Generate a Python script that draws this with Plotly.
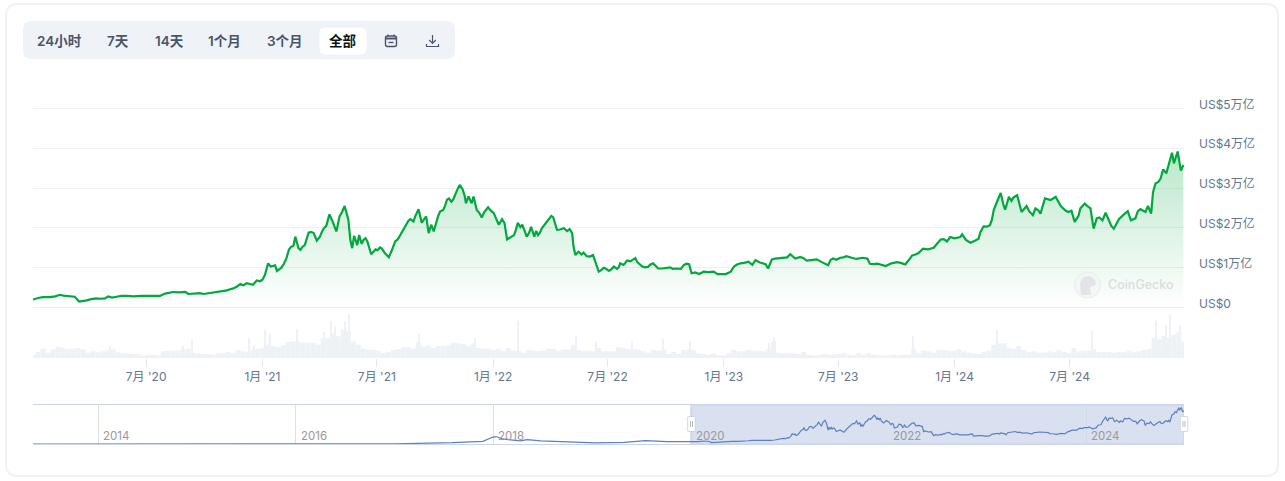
import pandas as pd
import plotly.graph_objs as go

W = 1285
H = 481

START = pd.Timestamp("2020-01-04")
END = pd.Timestamp("2024-12-29")

# market cap in 万亿 USD; days counted from START
cap_days = [
    0, 16, 27, 43, 53, 66, 73, 85, 100, 114, 119, 132, 149, 170, 201, 209, 222, 241, 246, 259,
    270, 291, 307, 317, 328, 333, 338, 348, 354, 359, 367, 372, 376, 383, 386, 393, 401, 405, 412, 415,
    420, 423, 430, 436, 444, 449, 460, 464, 469, 473, 480, 485, 493, 499, 505, 508, 513, 516, 520, 526,
    529, 535, 542, 549, 563, 573, 577, 581, 591, 597, 602, 610, 615, 622, 626, 630, 634, 639, 644, 649,
    655, 662, 668, 675, 680, 685, 689, 694, 697, 702, 710, 720, 729, 737, 742, 746, 750, 761, 767, 774,
    781, 788, 793, 799, 805, 816, 823, 829, 840, 853, 858, 863, 876, 886, 895, 903, 911, 919, 924, 929,
    934, 940, 953, 960, 968, 981, 989, 1003, 1012, 1025, 1030, 1038, 1042, 1054, 1061, 1077, 1083, 1096, 1104, 1109,
    1119, 1132, 1138, 1143, 1159, 1163, 1169, 1180, 1193, 1198, 1206, 1214, 1224, 1240, 1258, 1266, 1277, 1287, 1320, 1324,
    1336, 1349, 1367, 1380, 1391, 1401, 1408, 1425, 1436, 1446, 1451, 1467, 1470, 1483, 1496, 1504, 1514, 1520, 1531, 1538,
    1544, 1551, 1557, 1564, 1572, 1582, 1586, 1594, 1601, 1610, 1618, 1634, 1643, 1648, 1657, 1664, 1673, 1678, 1683, 1692,
    1697, 1702, 1710, 1726, 1732, 1737, 1744, 1752, 1760, 1764, 1769, 1776, 1784, 1788, 1793, 1802, 1805, 1811, 1816, 1820,
]
cap_values = [
    .20, .26, .26, .32, .29, .27, .15, .18, .23, .23, .28, .27, .29, .29, .29, .35, .39, .39, .34, .36,
    .34, .38, .43, .48, .59, .56, .61, .57, .68, .66, .82, 1.11, 1.03, 1.06, .92, 1.00, 1.24, 1.46, 1.55, 1.78,
    1.49, 1.45, 1.57, 1.88, 1.87, 1.68, 1.99, 2.05, 2.34, 2.20, 1.91, 2.29, 2.55, 2.20, 1.49, 1.80, 1.57, 1.82, 1.60, 1.74,
    1.66, 1.34, 1.46, 1.51, 1.26, 1.66, 1.71, 1.82, 2.12, 2.22, 2.16, 2.47, 2.13, 2.29, 1.87, 2.08, 1.91, 2.24, 2.41, 2.45,
    2.71, 2.66, 2.86, 3.08, 2.96, 2.62, 2.79, 2.62, 2.79, 2.45, 2.26, 2.52, 2.37, 2.08, 2.22, 2.12, 1.71, 1.82, 2.13, 2.08,
    1.78, 2.03, 1.78, 1.82, 1.99, 2.24, 2.27, 1.95, 1.99, 1.87, 1.32, 1.40, 1.29, 1.32, .90, 1.00, .92, 1.03, .97, 1.11,
    1.07, 1.18, 1.24, 1.08, 1.01, 1.11, .98, 1.00, .97, .97, 1.07, 1.09, .86, .84, .90, .90, .84, .84, .90, 1.03,
    1.11, 1.15, 1.07, 1.19, 1.09, .98, 1.21, 1.24, 1.26, 1.34, 1.23, 1.27, 1.18, 1.21, 1.06, 1.23, 1.25, 1.29, 1.23, 1.10,
    1.10, 1.04, 1.14, 1.08, 1.31, 1.37, 1.48, 1.50, 1.71, 1.66, 1.77, 1.77, 1.84, 1.63, 1.73, 2.04, 2.07, 2.45, 2.88, 2.46,
    2.78, 2.76, 2.82, 2.40, 2.55, 2.32, 2.49, 2.36, 2.74, 2.70, 2.78, 2.43, 2.43, 2.15, 2.49, 2.61, 2.49, 1.98, 2.24, 2.19,
    2.38, 2.18, 1.98, 2.34, 2.42, 2.19, 2.24, 2.47, 2.40, 2.55, 2.36, 3.12, 3.24, 3.47, 3.37, 3.89, 3.62, 3.92, 3.44, 3.58,
]

# second pass over the same line, the smaller wiggles between the points above
wiggle_days = [
    8, 22, 35, 48, 60, 79, 92, 107, 125, 140, 159, 185, 194, 215, 232, 252, 264, 280, 299, 312,
    322, 343, 363, 397, 408, 418, 426, 433, 440, 454, 457, 477, 489, 502, 511, 523, 532, 545, 552, 556,
    568, 585, 594, 605, 618, 641, 652, 658, 665, 671, 683, 691, 700, 706, 714, 724, 733, 755, 764, 771,
    778, 785, 796, 802, 810, 820, 826, 834, 845, 849, 855, 868, 871, 881, 890, 899, 907, 915, 927, 937,
    945, 950, 956, 964, 973, 977, 985, 995, 1008, 1018, 1034, 1048, 1069, 1090, 1114, 1125, 1150, 1174, 1186, 1202,
    1219, 1232, 1248, 1262, 1271, 1282, 1295, 1303, 1312, 1330, 1342, 1358, 1373, 1385, 1396, 1416, 1431, 1441, 1458, 1476,
    1490, 1499, 1509, 1517, 1525, 1535, 1541, 1548, 1561, 1576, 1590, 1605, 1614, 1626, 1638, 1654, 1668, 1687, 1706, 1718,
    1748, 1772, 1780, 1798, 1808,
]
wiggle_values = [
    .24, .25, .28, .30, .28, .16, .21, .22, .25, .29, .28, .29, .30, .37, .38, .35, .36, .36, .40, .46,
    .52, .59, .70, 1.10, 1.52, 1.60, 1.52, 1.70, 1.90, 1.78, 1.90, 2.02, 2.40, 1.70, 1.68, 1.70, 1.50, 1.44, 1.48, 1.38,
    1.45, 1.95, 2.18, 2.30, 2.20, 2.30, 2.56, 2.74, 2.72, 2.95, 2.80, 2.70, 2.60, 2.38, 2.40, 2.44, 2.22, 1.76, 1.95, 2.02,
    1.92, 1.88, 1.92, 1.88, 2.10, 2.30, 2.12, 1.96, 1.92, 1.97, 1.55, 1.33, 1.38, 1.28, 1.15, .94, .97, .96, 1.02, 1.12,
    1.16, 1.20, 1.14, 1.03, 1.02, 1.08, 1.05, .98, 1.01, .98, 1.10, .88, .89, .85, 1.08, 1.12, 1.13, 1.23, 1.26, 1.28,
    1.24, 1.19, 1.14, 1.20, 1.20, 1.26, 1.25, 1.22, 1.25, 1.09, 1.07, 1.11, 1.12, 1.18, 1.33, 1.46, 1.60, 1.72, 1.74, 1.70,
    1.68, 1.90, 2.03, 2.20, 2.65, 2.60, 2.62, 2.68, 2.55, 2.42, 2.45, 2.72, 2.74, 2.55, 2.40, 2.30, 2.55, 2.26, 2.05, 2.22,
    2.42, 2.90, 3.15, 3.70, 3.80,
]

# relative volume, evenly spaced across the main range
volume_values = [
    10, 18, 28, 16, 26, 34, 30, 26, 28, 30, 26, 16, 20, 18, 20, 24, 26, 18, 14, 14, 12, 12, 8, 10, 10, 8, 20, 22, 22, 22,
    26, 28, 16, 14, 12, 12, 10, 14, 14, 18, 14, 24, 20, 18, 24, 28, 30, 40, 36, 32, 38, 48, 50, 48, 46, 46, 46, 40, 60,
    60, 75, 65, 85, 80, 50, 40, 28, 25, 25, 22, 16, 18, 24, 26, 32, 32, 28, 48, 34, 38, 30, 36, 36, 38, 46, 44, 42, 36, 44,
    30, 28, 28, 24, 28, 22, 30, 22, 22, 16, 24, 22, 20, 22, 28, 28, 22, 26, 26, 40, 24, 22, 22, 20, 30, 20, 20, 20,
    32, 30, 26, 26, 26, 20, 16, 24, 22, 24, 12, 18, 12, 24, 26, 24, 14, 12, 10, 14, 8, 8, 14, 24, 20, 20, 24, 22, 22, 20,
    26, 50, 16, 14, 14, 14, 12, 18, 10, 8, 8, 12, 10, 10, 12, 14, 10, 8, 14, 10, 14, 10, 8, 8, 8, 10, 8, 10,
    10, 28, 14, 22, 20, 16, 24, 24, 22, 20, 26, 20, 16, 14, 12, 18, 22, 40, 44, 44, 30, 28, 36, 24, 18, 20, 16, 16, 20, 18,
    24, 18, 14, 30, 20, 22, 22, 26, 18, 18, 18, 16, 18, 18, 22, 18, 20, 24, 26, 60, 56, 66, 60, 70, 78, 50,
]
spike_days = [
    122, 238, 252, 342, 349, 367, 375, 417, 461, 472, 478, 494, 500, 611, 699, 768,
    859, 891, 948, 996, 1039, 1165, 1173, 1393, 1525, 1676, 1777, 1793, 1799, 1815,
]
spike_values = [
    36, 36, 55, 60, 38, 85, 72, 87, 78, 110, 95, 110, 132, 72, 60, 110,
    68, 48, 52, 56, 52, 46, 62, 65, 85, 80, 112, 100, 128, 100,
]

# earlier history, only shown in the navigator
early_dates = [
    "2013-05-04", "2015-01-01", "2016-01-01", "2017-01-01", "2017-08-01", "2017-11-23", "2017-12-28", "2018-01-10",
    "2018-02-05", "2018-03-03", "2018-04-10", "2018-05-06", "2018-06-25", "2018-08-14", "2018-11-28", "2019-01-15",
    "2019-04-30", "2019-07-17", "2019-10-05", "2019-12-30",
]
early_values = [
    .002, .005, .008, .018, .14, .29, .72, .80, .54, .43, .33, .47, .33, .29, .22, .13, .18, .36, .25, .22,
]

y_ticks = [0, 1, 2, 3, 4, 5]
y_labels = ["US$0", "US$1万亿", "US$2万亿", "US$3万亿", "US$4万亿", "US$5万亿"]
x_ticks = ["2020-07-01", "2021-01-01", "2021-07-01", "2022-01-01", "2022-07-01",
           "2023-01-01", "2023-07-01", "2024-01-01", "2024-07-01"]
x_labels = ["7月 '20", "1月 '21", "7月 '21", "1月 '22", "7月 '22", "1月 '23", "7月 '23", "1月 '24", "7月 '24"]
nav_years = [2014, 2016, 2018, 2020, 2022, 2024]
range_buttons = ["24小时", "7天", "14天", "1个月", "3个月", "全部"]
button_centers = [59.3, 118, 169, 225, 285, 343]

FONT = "Inter, 'Noto Sans CJK SC', sans-serif"
GREEN = "#00a83e"
GREY_TEXT = "#65758b"
DARK_TEXT = "#4a5568"


def px(x):
    return x / W


def py(y):
    return 1 - y / H


def path(*points, close=False):
    s = ""
    for i, (x, y) in enumerate(points):
        s += ("M" if i == 0 else "L") + "{:.5f},{:.5f} ".format(px(x), py(y))
    return s + ("Z" if close else "")


def round_rect(x0, y0, x1, y1, r):
    # corners are quadratic curves, coordinates given in page pixels
    c = lambda x, y: "{:.5f},{:.5f}".format(px(x), py(y))
    return ("M" + c(x0 + r, y0) + " L" + c(x1 - r, y0) + " Q" + c(x1, y0) + " " + c(x1, y0 + r)
            + " L" + c(x1, y1 - r) + " Q" + c(x1, y1) + " " + c(x1 - r, y1)
            + " L" + c(x0 + r, y1) + " Q" + c(x0, y1) + " " + c(x0, y1 - r)
            + " L" + c(x0, y0 + r) + " Q" + c(x0, y0) + " " + c(x0 + r, y0) + " Z")


def page_shape(d, fill=None, color=None, width=0, layer="above"):
    return dict(type="path", path=d, xref="paper", yref="paper", layer=layer,
                fillcolor=fill or "rgba(0,0,0,0)",
                line=dict(color=color or "rgba(0,0,0,0)", width=width))


cap_dates = START + pd.to_timedelta(cap_days, unit="D")
spike_dates = START + pd.to_timedelta(spike_days, unit="D")
volume_dates = pd.date_range(START, END, periods=len(volume_values))
volume_step = (END - START).total_seconds() * 1000 / (len(volume_values) - 1)

df = pd.DataFrame({"day": cap_days + wiggle_days, "cap": cap_values + wiggle_values}).sort_values("day")
df["date"] = START + pd.to_timedelta(df["day"], unit="D")

fig = go.Figure()
fig.add_trace(go.Bar(x=volume_dates, y=volume_values, yaxis="y2", xaxis="x", width=volume_step,
                     marker=dict(color="#eef2f6", line=dict(width=0))))
fig.add_trace(go.Bar(x=spike_dates, y=spike_values, yaxis="y2", xaxis="x", width=86400000 * 1.6,
                     marker=dict(color="#eef2f6", line=dict(width=0))))
fig.add_trace(go.Scatter(
    x=df["date"], y=df["cap"], mode="lines", yaxis="y", xaxis="x",
    line=dict(color=GREEN, width=2.2),
    fill="tozeroy",
    fillgradient=dict(type="vertical", start=0, stop=3.9,
                      colorscale=[[0, "rgba(0,168,62,0)"], [1, "rgba(0,168,62,0.27)"]]),
))
fig.add_trace(go.Scatter(
    x=list(pd.to_datetime(early_dates)) + list(cap_dates), y=early_values + cap_values,
    mode="lines", xaxis="x2", yaxis="y3", line=dict(color="#5f7fc1", width=1.2),
))

shapes = [
    page_shape(round_rect(6, 4, 1278, 476, 12), color="#eef2f6", width=2, layer="below"),
    page_shape(round_rect(23, 21, 455, 59, 8), fill="#eff3f8", layer="below"),
    page_shape(round_rect(319, 27, 367, 55, 7), fill="#ffffff", color="#e8ecf1", width=0.5, layer="below"),
    # calendar icon
    page_shape(round_rect(385.5, 36, 396.5, 46.5, 2), color=DARK_TEXT, width=1.4),
    page_shape(path((385.5, 37.5), (396.5, 37.5), (396.5, 39.5), (385.5, 39.5), close=True), fill=DARK_TEXT),
    page_shape(path((388, 34.5), (388, 36.5)), color=DARK_TEXT, width=1.4),
    page_shape(path((394, 34.5), (394, 36.5)), color=DARK_TEXT, width=1.4),
    page_shape(path((388.5, 42.5), (393.5, 42.5)), color=DARK_TEXT, width=1.4),
    # download icon
    page_shape(path((432.5, 35), (432.5, 43)), color=DARK_TEXT, width=1.2),
    page_shape(path((429.2, 40), (432.5, 43.3), (435.8, 40)), color=DARK_TEXT, width=1.2),
    page_shape(path((426.5, 44), (426.5, 46.5), (438.5, 46.5), (438.5, 44)), color=DARK_TEXT, width=1.2),
    # CoinGecko watermark
    dict(type="circle", xref="paper", yref="paper", x0=px(1074.5), x1=px(1100.5), y0=py(298), y1=py(272),
         fillcolor="rgba(244,245,246,0.9)", line=dict(color="#e9ebee", width=1), layer="above"),
    page_shape(path((1081, 295), (1080, 283), (1083, 277), (1090, 276), (1095, 280), (1096, 285), (1090, 287),
                    (1091, 295), close=True), fill="#e2e4e7"),
    # navigator selection
    dict(type="rect", xref="x2", yref="paper", x0=START, x1=END, y0=py(444), y1=py(405),
         fillcolor="rgba(102,133,194,0.25)", line=dict(color="#c9d3e6", width=1), layer="below"),
]
# the year lines disappear under the selection, so draw them again on top of it
for year in [2022, 2024]:
    shapes.append(dict(type="line", xref="x2", yref="paper", x0="{}-01-01".format(year), x1="{}-01-01".format(year),
                       y0=py(444), y1=py(405), line=dict(color="#c4cde0", width=1), layer="below"))
for cx, top, bottom in [(691.5, 416.5, 431.5), (1184, 416.5, 431.5)]:
    shapes.append(page_shape(round_rect(cx - 3.8, top, cx + 3.8, bottom, 1), fill="#ffffff", color="#ccd6eb", width=1))
    shapes.append(page_shape(path((cx - 1, top + 4.5), (cx - 1, bottom - 4.5)), color="#b8b8b8", width=1))
    shapes.append(page_shape(path((cx + 1, top + 4.5), (cx + 1, bottom - 4.5)), color="#b8b8b8", width=1))

annotations = []
for label, cx in zip(range_buttons, button_centers):
    active = label == "全部"
    annotations.append(dict(
        text=label, xref="paper", yref="paper", x=px(cx), y=py(41), showarrow=False,
        xanchor="center", yanchor="middle",
        font=dict(family=FONT, size=13.5, weight=600, color="#0d1217" if active else DARK_TEXT),
    ))
for year in nav_years:
    annotations.append(dict(
        text=str(year), xref="x2", yref="paper", x="{}-01-01".format(year), y=py(436), xshift=3,
        showarrow=False, xanchor="left", yanchor="middle",
        font=dict(family=FONT, size=11.5, color="#999999"),
    ))
annotations.append(dict(
    text="CoinGecko", xref="paper", yref="paper", x=px(1106), y=py(284), showarrow=False,
    xanchor="left", yanchor="middle", font=dict(family=FONT, size=12.5, weight=500, color="#d9dce0"),
))

fig.update_layout(
    width=W,
    height=H,
    margin=dict(l=0, r=0, t=0, b=0, autoexpand=False),
    paper_bgcolor="#ffffff",
    plot_bgcolor="rgba(0,0,0,0)",
    showlegend=False,
    barmode="overlay",
    hovermode=False,
    shapes=shapes,
    annotations=annotations,
    xaxis=dict(
        domain=[px(33), px(1184)], range=[START, END], anchor="y2", type="date", automargin=False,
        tickvals=x_ticks, ticktext=x_labels, ticks="outside", ticklen=8, tickcolor="#e6e8eb", tickwidth=1,
        showgrid=False, showline=False, zeroline=False,
        tickfont=dict(family=FONT, size=12, color=GREY_TEXT),
    ),
    # a little wider than 0..5 so the outer gridlines are not clipped away
    yaxis=dict(
        domain=[py(309.5), py(106.5)], range=[-0.05, 5.05], anchor="x", side="right", automargin=False,
        tickvals=y_ticks, ticktext=y_labels, showgrid=True, gridcolor="#eef0f3", gridwidth=1,
        zeroline=False, showline=False, ticks="", ticklabelstandoff=14, ticklabelshift=-4,
        tickfont=dict(family=FONT, size=12, color=GREY_TEXT),
    ),
    yaxis2=dict(
        domain=[py(358), py(308)], range=[0, 150], anchor="x", visible=False,
    ),
    xaxis2=dict(
        domain=[px(33), px(1184)], range=["2013-05-04", END], anchor="y3", type="date", automargin=False,
        tickvals=["{}-01-01".format(y) for y in nav_years], showticklabels=False, ticks="",
        showgrid=True, gridcolor="#dde1e8", gridwidth=1,
        showline=True, linecolor="#ccd6eb", linewidth=1, mirror=True, zeroline=False,
    ),
    yaxis3=dict(
        domain=[py(444), py(405)], range=[0, 4.19], anchor="x2", visible=False,
    ),
)

fig.write_html("out.html", config=dict(displayModeBar=False),
               post_script="document.body.style.margin='0';document.body.style.overflow='hidden';")
